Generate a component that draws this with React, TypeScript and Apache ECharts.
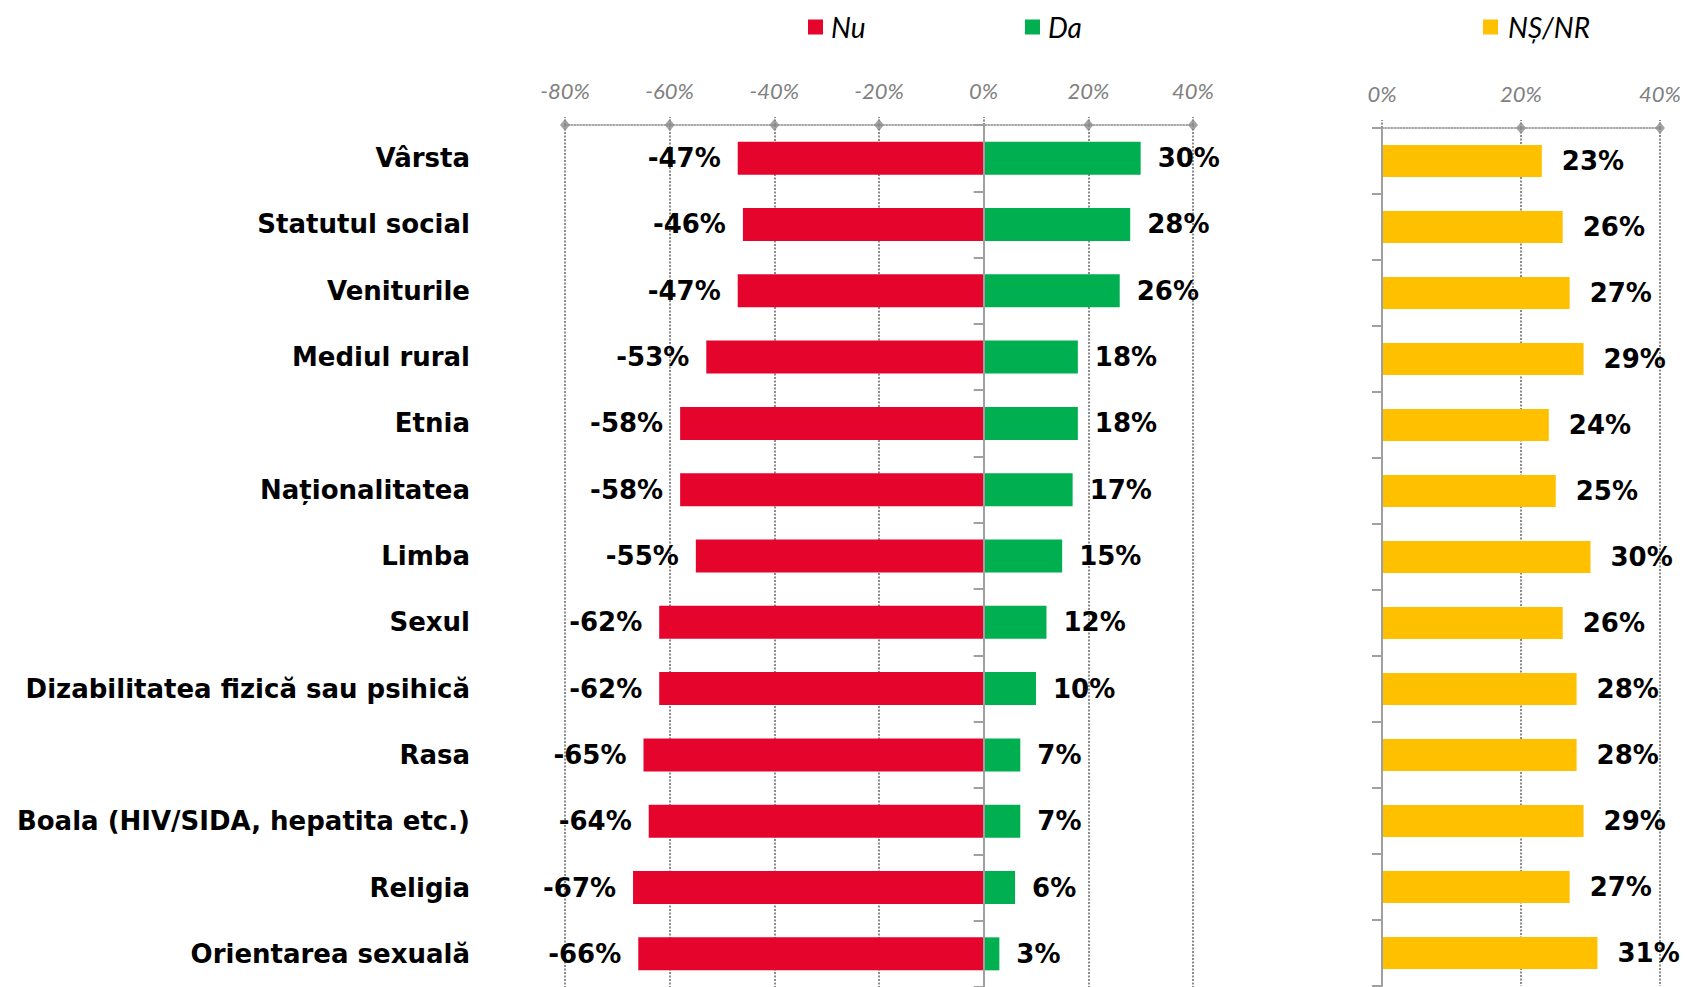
import React, { useEffect, useRef } from "react";
import * as echarts from "echarts";

const categories = [
  "Vârsta",
  "Statutul social",
  "Veniturile",
  "Mediul rural",
  "Etnia",
  "Naționalitatea",
  "Limba",
  "Sexul",
  "Dizabilitatea fizică sau psihică",
  "Rasa",
  "Boala (HIV/SIDA, hepatita etc.)",
  "Religia",
  "Orientarea sexuală",
];
const nuValues = [-47, -46, -47, -53, -58, -58, -55, -62, -62, -65, -64, -67, -66];
const daValues = [30, 28, 26, 18, 18, 17, 15, 12, 10, 7, 7, 6, 3];
const nsValues = [23, 26, 27, 29, 24, 25, 30, 26, 28, 28, 29, 27, 31];
const leftDiamondTicks = [-80, -60, -40, -20, 20, 40];
const rightDiamondTicks = [20, 40];

const FONT = "Lato, 'Noto Sans', sans-serif";
const BOLD_FONT = "'DejaVu Sans', sans-serif";
const GRID_GRAY = "#8c8c8c";
const AXIS_GRAY = "#a0a0a0";
const RED = "#E5052C";
const GREEN = "#00B050";
const YELLOW = "#FFC000";

export default function App() {
  const ref = useRef<HTMLDivElement>(null);
  useEffect(() => {
    document.body.style.margin = "0";
    if (!ref.current) return;
    const chart = echarts.init(ref.current, undefined, { renderer: "svg" });

    const dotted = { color: GRID_GRAY, width: 2, type: [2, 1.5] as any };
    const xAxisCommon = (min: number, max: number, gridIndex: number) => ({
      type: "value" as const,
      gridIndex,
      position: "top" as const,
      min,
      max,
      interval: 20,
      axisLine: { show: true, onZero: false, lineStyle: { color: GRID_GRAY, width: 1.5, type: [1.5, 1.5] as any } },
      axisTick: { show: true, length: 8, lineStyle: dotted },
      splitLine: { show: true, lineStyle: dotted },
      axisLabel: {
        formatter: "{value}%",
        fontFamily: FONT,
        fontStyle: "italic",
        fontSize: 22,
        color: "#808080",
        margin: 24,
      },
    });

    const labelStyle = {
      fontFamily: BOLD_FONT,
      fontWeight: "bold" as const,
      fontSize: 26,
      color: "#000",
    };
    const legendText = { fontFamily: FONT, fontStyle: "italic", fontSize: 28, color: "#000" };

    chart.setOption({
      animation: false,
      legend: [
        {
          data: ["Nu"],
          left: 803,
          top: 8,
          icon: "rect",
          itemWidth: 15,
          itemHeight: 15,
          textStyle: { ...legendText, padding: [0, 0, 0, 3] },
          selectedMode: false,
        },
        {
          data: ["Da"],
          left: 1020,
          top: 8,
          icon: "rect",
          itemWidth: 15,
          itemHeight: 15,
          textStyle: { ...legendText, padding: [0, 0, 0, 3] },
          selectedMode: false,
        },
        {
          data: ["NȘ/NR"],
          left: 1478,
          top: 8,
          icon: "rect",
          itemWidth: 15,
          itemHeight: 15,
          textStyle: { ...legendText, padding: [0, 0, 0, 5] },
          selectedMode: false,
        },
      ],
      grid: [
        { left: 565, top: 125, width: 628, height: 865 },
        { left: 1382, top: 128, width: 278, height: 858 },
      ],
      xAxis: [xAxisCommon(-80, 40, 0), xAxisCommon(0, 40, 1)],
      yAxis: [
        {
          type: "category",
          gridIndex: 0,
          data: categories,
          inverse: true,
          axisLine: { show: true, onZero: true, lineStyle: { color: AXIS_GRAY, width: 2 } },
          axisTick: { show: true, length: 10, interval: 0, lineStyle: { color: AXIS_GRAY, width: 2 } },
          axisLabel: { show: false },
          splitLine: { show: false },
          z: 5,
        },
        {
          type: "category",
          gridIndex: 0,
          data: categories,
          inverse: true,
          position: "left",
          axisLine: { show: false, onZero: false },
          axisTick: { show: false },
          axisLabel: { ...labelStyle, margin: 95 },
          splitLine: { show: false },
        },
        { type: "value", gridIndex: 0, min: 0, max: 1, show: false },
        {
          type: "category",
          gridIndex: 1,
          data: categories,
          inverse: true,
          axisLine: { show: true, onZero: false, lineStyle: { color: AXIS_GRAY, width: 2 } },
          axisTick: { show: true, length: 10, interval: 0, lineStyle: { color: AXIS_GRAY, width: 2 } },
          axisLabel: { show: false },
          splitLine: { show: false },
          z: 5,
        },
        { type: "value", gridIndex: 1, min: 0, max: 1, show: false },
      ],
      series: [
        {
          name: "Nu",
          type: "bar",
          xAxisIndex: 0,
          yAxisIndex: 0,
          stack: "a",
          data: nuValues,
          barWidth: 33,
          itemStyle: { color: RED },
          label: {
            show: true,
            position: "left",
            distance: 17,
            formatter: (p: any) => `${p.value}%`,
            ...labelStyle,
          },
        },
        {
          name: "Da",
          type: "bar",
          xAxisIndex: 0,
          yAxisIndex: 0,
          stack: "a",
          data: daValues,
          barWidth: 33,
          itemStyle: { color: GREEN },
          label: {
            show: true,
            position: "right",
            distance: 17,
            formatter: (p: any) => `${p.value}%`,
            ...labelStyle,
          },
        },
        {
          name: "NȘ/NR",
          type: "bar",
          xAxisIndex: 1,
          yAxisIndex: 3,
          data: nsValues,
          barWidth: 32,
          itemStyle: { color: YELLOW },
          label: {
            show: true,
            position: "right",
            distance: 20,
            formatter: (p: any) => `${p.value}%`,
            ...labelStyle,
          },
        },
        {
          name: "ticksL",
          type: "scatter",
          xAxisIndex: 0,
          yAxisIndex: 2,
          clip: false,
          symbol: "diamond",
          symbolSize: [10, 12],
          itemStyle: { color: GRID_GRAY },
          data: leftDiamondTicks.map((v) => [v, 1]),
          silent: true,
          z: 6,
        },
        {
          name: "ticksR",
          type: "scatter",
          xAxisIndex: 1,
          yAxisIndex: 4,
          clip: false,
          symbol: "diamond",
          symbolSize: [10, 12],
          itemStyle: { color: GRID_GRAY },
          data: rightDiamondTicks.map((v) => [v, 1]),
          silent: true,
          z: 6,
        },
      ],
    });
    return () => chart.dispose();
  }, []);
  return <div ref={ref} style={{ width: 1687, height: 987 }} />;
}
